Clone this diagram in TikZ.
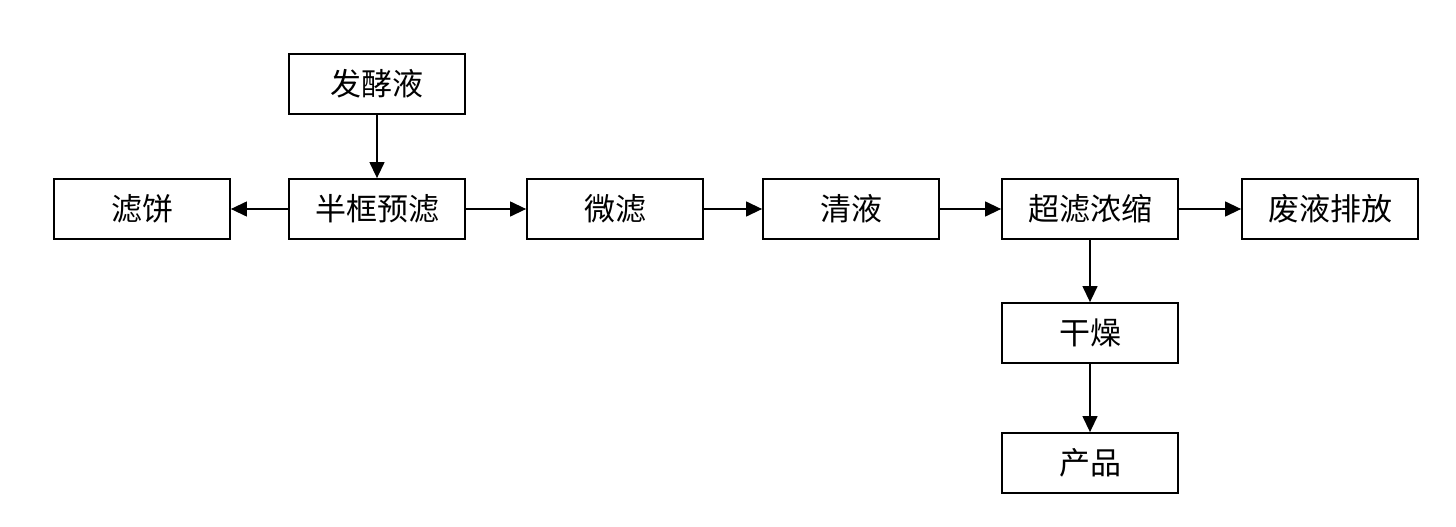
\documentclass[tikz,border=0pt]{standalone}
\usepackage{fontspec}
\newfontfamily\cjk{Noto Sans CJK SC}
\usetikzlibrary{arrows.meta}
\begin{document}
\begin{tikzpicture}[x=1pt,y=-1pt,
  procbox/.style={draw=black,line width=1.8pt,minimum width=176pt,minimum height=60pt,inner sep=0pt,font=\cjk\fontsize{31}{31}\selectfont,fill=white},
  flow/.style={line width=1.3pt,-{Triangle[length=16pt,width=15pt]}}]
\useasboundingbox (0,0) rectangle (1456,527);
\node[procbox] (ferm) at (377,84) {发酵液};
\node[procbox] (cake) at (142,209) {滤饼};
\node[procbox] (pre) at (377,209) {半框预滤};
\node[procbox] (micro) at (615,209) {微滤};
\node[procbox] (clear) at (851,209) {清液};
\node[procbox] (ultra) at (1090,209) {超滤浓缩};
\node[procbox] (waste) at (1330,209) {废液排放};
\node[procbox] (dry) at (1090,333) {干燥};
\node[procbox] (prod) at (1090,463) {产品};
\draw[flow] (ferm) -- (pre);
\draw[flow] (pre) -- (cake);
\draw[flow] (pre) -- (micro);
\draw[flow] (micro) -- (clear);
\draw[flow] (clear) -- (ultra);
\draw[flow] (ultra) -- (waste);
\draw[flow] (ultra) -- (dry);
\draw[flow] (dry) -- (prod);
\end{tikzpicture}
\end{document}
